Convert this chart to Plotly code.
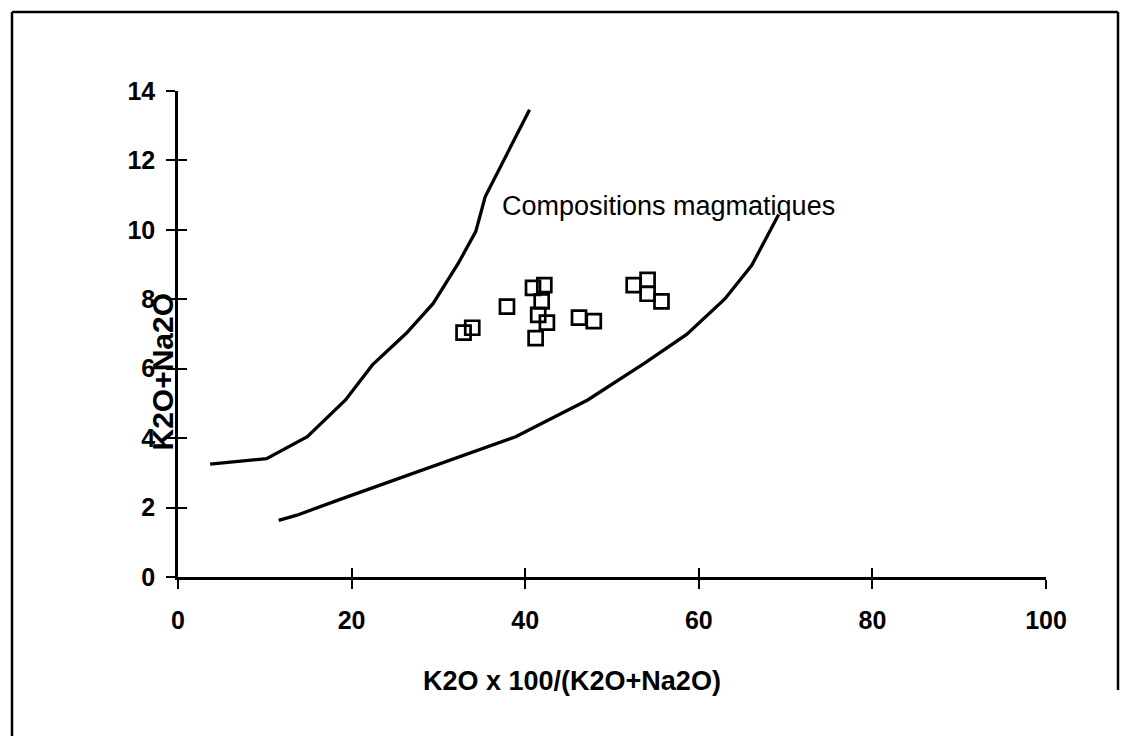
import plotly.graph_objects as go

# ---- data ----
upper_x = [3.7, 10.2, 14.9, 19.3, 22.4, 26.3, 29.4, 32.3, 34.3, 35.4, 40.5]
upper_y = [3.25, 3.41, 4.04, 5.10, 6.11, 7.02, 7.88, 9.04, 9.95, 10.96, 13.46]

lower_x = [11.6, 13.7, 18.6, 38.9, 47.2, 53.8, 58.6, 63.0, 66.1, 69.2]
lower_y = [1.63, 1.78, 2.23, 4.04, 5.10, 6.17, 6.99, 8.01, 8.98, 10.44]

sample_x = [32.9, 33.9, 37.9, 40.9, 42.2, 41.9, 41.5, 42.5, 41.2, 46.2, 47.9, 52.5, 54.1, 54.1, 55.7]
sample_y = [7.04, 7.18, 7.79, 8.33, 8.41, 7.94, 7.55, 7.33, 6.88, 7.47, 7.37, 8.41, 8.56, 8.16, 7.94]

x_ticks = [0, 20, 40, 60, 80, 100]
y_ticks = [0, 2, 4, 6, 8, 10, 12, 14]

x_title = "K2O x 100/(K2O+Na2O)"
y_title = "K2O+Na2O"
field_label = "Compositions magmatiques"

FONT = "Liberation Sans, Arial, Helvetica, sans-serif"

fig = go.Figure()
fig.add_trace(go.Scatter(x=upper_x, y=upper_y, mode="lines",
                         line=dict(color="black", width=3.3), hoverinfo="skip"))
fig.add_trace(go.Scatter(x=lower_x, y=lower_y, mode="lines",
                         line=dict(color="black", width=3.3), hoverinfo="skip"))
fig.add_trace(go.Scatter(x=sample_x, y=sample_y, mode="markers",
                         marker=dict(symbol="square-open", size=14, color="black",
                                     line=dict(color="black", width=2.7))))
# invisible trace for the overlaid (inner tick) axes
fig.add_trace(go.Scatter(x=[], y=[], xaxis="x2", yaxis="y2", mode="markers",
                         hoverinfo="skip"))

tickfont = dict(family=FONT, size=25, color="black", weight="bold")

# the html page has an 8px body margin, so the figure is offset by 8px
fig.update_layout(
    width=1128, height=736,
    margin=dict(l=170, r=90, t=83, b=167),
    paper_bgcolor="white", plot_bgcolor="white",
    showlegend=False,
    xaxis=dict(range=[0, 100], tickvals=x_ticks, ticktext=[str(v) for v in x_ticks],
               ticks="outside", ticklen=9, tickwidth=2, tickcolor="black",
               showline=True, linecolor="black", linewidth=2.5,
               showgrid=False, zeroline=False, tickfont=tickfont,
               ticklabelstandoff=10),
    yaxis=dict(range=[0, 14], tickvals=y_ticks, ticktext=[str(v) for v in y_ticks],
               ticks="outside", ticklen=9, tickwidth=2, tickcolor="black",
               showline=True, linecolor="black", linewidth=2.5,
               showgrid=False, zeroline=False, tickfont=tickfont,
               ticklabelstandoff=6),
    xaxis2=dict(overlaying="x", anchor="y", side="bottom", range=[0, 100],
                tickvals=x_ticks, ticks="inside", ticklen=9, tickwidth=2,
                tickcolor="black", showticklabels=False, showline=False,
                showgrid=False, zeroline=False),
    yaxis2=dict(overlaying="y", anchor="x", side="left", range=[0, 14],
                tickvals=y_ticks, ticks="inside", ticklen=9, tickwidth=2,
                tickcolor="black", showticklabels=False, showline=False,
                showgrid=False, zeroline=False),
)

# axis titles and field label
fig.add_annotation(text=x_title, xref="paper", yref="paper", x=0.4539, y=-0.214,
                   xanchor="center", yanchor="middle", showarrow=False,
                   font=dict(family=FONT, size=27, color="black", weight="bold"))
fig.add_annotation(text=y_title, xref="paper", yref="paper", x=-0.0190, y=0.4218,
                   xanchor="center", yanchor="middle", showarrow=False, textangle=-90,
                   font=dict(family=FONT, size=30, color="black", weight="bold"))
fig.add_annotation(text=field_label, xref="x", yref="y", x=37.1, y=10.69,
                   xanchor="left", yanchor="middle", showarrow=False,
                   font=dict(family=FONT, size=27, color="black"))

# outer frame of the figure
frame = dict(color="black", width=2.5)
fig.add_shape(type="line", xref="paper", yref="paper", x0=-0.19124, x1=-0.19124,
              y0=1.16255, y1=-0.34, line=frame)
fig.add_shape(type="line", xref="paper", yref="paper", x0=-0.19124, x1=1.08295,
              y0=1.16255, y1=1.16255, line=frame)
fig.add_shape(type="line", xref="paper", yref="paper", x0=1.08295, x1=1.08295,
              y0=1.16255, y1=-0.2325, line=frame)

fig.write_html("out.html")
